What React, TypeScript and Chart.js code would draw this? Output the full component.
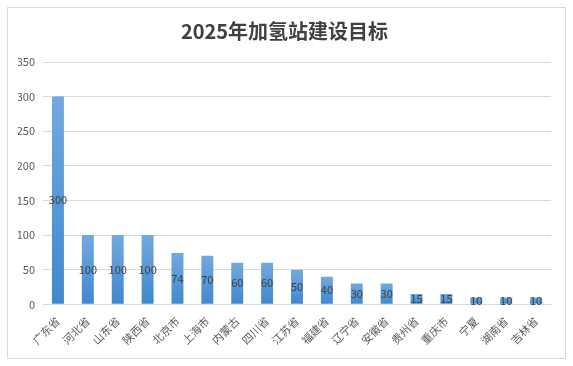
import React, { useEffect, useRef } from "react";
import { Chart, registerables } from "chart.js";

Chart.register(...registerables);

const TITLE = "2025年加氢站建设目标";
const CATEGORIES = ["广东省", "河北省", "山东省", "陕西省", "北京市", "上海市", "内蒙古", "四川省", "江苏省", "福建省", "辽宁省", "安徽省", "贵州省", "重庆市", "宁夏", "湖南省", "吉林省"];
const VALUES = [300, 100, 100, 100, 74, 70, 60, 60, 50, 40, 30, 30, 15, 15, 10, 10, 10];
const Y_MIN = 0;
const Y_MAX = 350;
const Y_STEP = 50;

const FONT = "'Noto Sans CJK SC', 'DejaVu Sans', sans-serif";

const valueLabels = {
  id: "valueLabels",
  afterDatasetsDraw(chart: any) {
    const ctx = chart.ctx;
    const meta = chart.getDatasetMeta(0);
    ctx.save();
    ctx.font = `11px ${FONT}`;
    ctx.fillStyle = "#404040";
    ctx.textAlign = "center";
    ctx.textBaseline = "middle";
    meta.data.forEach((bar: any, i: number) => {
      const y = (bar.y + bar.base) / 2;
      ctx.fillText(String(chart.data.datasets[0].data[i]), bar.x, y);
    });
    ctx.restore();
  },
};

export default function App() {
  const ref = useRef<HTMLCanvasElement>(null);
  useEffect(() => {
    if (!ref.current) return;
    const chart = new Chart(ref.current, {
      type: "bar",
      data: {
        labels: CATEGORIES,
        datasets: [
          {
            data: VALUES,
            backgroundColor: (c: any) => {
              const ch = c.chart;
              const ys = ch.scales?.y;
              if (!ys || !ch.chartArea || c.raw == null) return "#5b9bd5";
              const top = ys.getPixelForValue(c.raw);
              const base = ys.getPixelForValue(0);
              if (!isFinite(top) || !isFinite(base) || top === base) return "#5b9bd5";
              const g = ch.ctx.createLinearGradient(0, top, 0, base);
              g.addColorStop(0, "#72a9de");
              g.addColorStop(1, "#3f88cf");
              return g;
            },
            barPercentage: 0.4,
            categoryPercentage: 1,
          },
        ],
      },
      options: {
        responsive: false,
        animation: false,
        layout: { padding: { top: 0, left: 10, right: 14, bottom: 9 } },
        plugins: {
          legend: { display: false },
          tooltip: { enabled: false },
          title: {
            display: true,
            text: TITLE,
            color: "#404040",
            font: { family: FONT, size: 20, weight: "bold" },
            padding: { top: 11, bottom: 19 },
          },
        },
        scales: {
          x: {
            grid: { display: false },
            border: { color: "#d9d9d9" },
            ticks: {
              color: "#595959",
              font: { family: FONT, size: 11 },
              maxRotation: 45,
              minRotation: 45,
              autoSkip: false,
              padding: 2,
            },
          },
          y: {
            min: Y_MIN,
            max: Y_MAX,
            grid: { color: "#d9d9d9", drawTicks: false },
            border: { display: false },
            ticks: {
              stepSize: Y_STEP,
              color: "#595959",
              font: { family: FONT, size: 11 },
              padding: 8,
            },
            afterFit: (s: any) => {
              s.width = 25;
            },
          },
        },
      },
      plugins: [valueLabels],
    });
    return () => chart.destroy();
  }, []);
  return (
    <div
      style={{
        position: "absolute",
        left: 7,
        top: 7,
        width: 559,
        height: 352,
        border: "1px solid #d9d9d9",
        boxSizing: "border-box",
        background: "#fff",
      }}
    >
      <canvas ref={ref} width={557} height={350} style={{ display: "block" }} />
    </div>
  );
}
